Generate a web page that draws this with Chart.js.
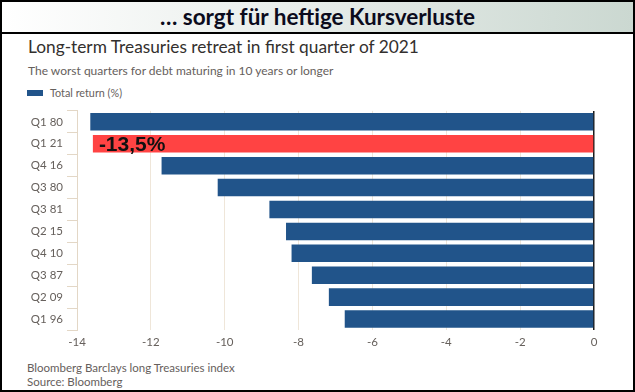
<!DOCTYPE html>
<html>
<head>
<meta charset="utf-8">
<script src="https://cdn.jsdelivr.net/npm/chart.js@4/dist/chart.umd.min.js"></script>
<style>
  body { margin: 0; background: #fff; width: 635px; height: 392px; overflow: hidden; position: relative; font-family: Lato, "Open Sans", sans-serif; }
  #frame { position: absolute; left: 0; top: 0; width: 635px; height: 392px; box-sizing: border-box; border: 2px solid #000; }
  #header { position: absolute; left: 0; top: 0; width: 635px; height: 34px; box-sizing: border-box; border: 2px solid #000;
    background: linear-gradient(to right, #ffffff 0%, #e9eeeb 45%, #cbd8d1 100%);
    text-align: center; font: bold 22.5px Lato, sans-serif; line-height: 30px; color: #0b0b1c; }
  .txt { position: absolute; left: 28px; white-space: nowrap; color: #66605c; }
  #title { top: 36px; font-size: 17.3px; color: #33302e; }
  #subtitle { top: 63px; font-size: 12px; }
  #legend { top: 86px; left: 27px; font-size: 10.8px; }
  #legend span { display: inline-block; width: 16px; height: 6px; background: #21548a; margin-right: 7px; vertical-align: 1px; }
  #note1 { top: 361px; font-size: 11.5px; left: 27px; }
  #note2 { top: 375px; font-size: 11.5px; left: 27px; }
  #wrap { position: absolute; left: 0; top: 100px; width: 635px; height: 250px; }
</style>
</head>
<body>
<div id="frame"></div>
<div id="header">… sorgt für heftige Kursverluste</div>
<div class="txt" id="title">Long-term Treasuries retreat in first quarter of 2021</div>
<div class="txt" id="subtitle">The worst quarters for debt maturing in 10 years or longer</div>
<div class="txt" id="legend"><span></span>Total return (%)</div>
<div class="txt" id="note1">Bloomberg Barclays long Treasuries index</div>
<div class="txt" id="note2">Source: Bloomberg</div>
<div id="wrap"><canvas id="chart" width="635" height="250"></canvas></div>
<script>
const quarters = ["Q1 80", "Q1 21", "Q4 16", "Q3 80", "Q3 81", "Q2 15", "Q4 10", "Q3 87", "Q2 09", "Q1 96"];
const totalReturn = [-13.64, -13.57, -11.71, -10.19, -8.79, -8.34, -8.19, -7.64, -7.18, -6.75];
const highlightQuarter = "Q1 21";
const highlightLabel = "-13,5%";
const xTicks = [-14, -12, -10, -8, -6, -4, -2, 0];

const blue = "#21548a";
const red = "#ff4343";
const beige = "#efe6d9";
const axisBeige = "#e3d7c6";
const labelGrey = "#66605c";

const barLabel = {
  id: "barLabel",
  afterDatasetsDraw(chart) {
    const i = quarters.indexOf(highlightQuarter);
    const bar = chart.getDatasetMeta(0).data[i];
    const ctx = chart.ctx;
    ctx.save();
    ctx.font = "bold 21px Arial, 'Liberation Sans', sans-serif";
    ctx.fillStyle = "#111";
    ctx.textAlign = "left";
    ctx.textBaseline = "middle";
    ctx.fillText(highlightLabel, bar.x + 6, bar.y + 1);
    ctx.restore();
  }
};

new Chart(document.getElementById("chart"), {
  type: "bar",
  data: {
    labels: quarters,
    datasets: [{
      label: "Total return (%)",
      data: totalReturn,
      backgroundColor: quarters.map(q => q === highlightQuarter ? red : blue),
      borderWidth: 0,
      barPercentage: 1,
      categoryPercentage: 0.8
    }]
  },
  options: {
    indexAxis: "y",
    responsive: false,
    animation: false,
    layout: { padding: { top: 7, right: 41, left: 0, bottom: 0 } },
    plugins: { legend: { display: false }, tooltip: { enabled: false } },
    scales: {
      x: {
        min: -14,
        max: 0,
        afterBuildTicks: scale => { scale.ticks = xTicks.map(v => ({ value: v })); },
        afterFit: scale => { scale.height = 20; },
        border: { display: false },
        grid: {
          drawTicks: false,
          color: ctx => ctx.tick && ctx.tick.value === 0 ? "#1a1a1a" : beige,
          lineWidth: ctx => ctx.tick && ctx.tick.value === 0 ? 1.5 : 1
        },
        ticks: { color: labelGrey, padding: 5, font: { family: "Lato", size: 11.5 } }
      },
      y: {
        afterFit: scale => { scale.width = 77; },
        border: { display: true, color: axisBeige },
        grid: { drawOnChartArea: false, drawTicks: true, tickLength: 10, color: axisBeige },
        ticks: { color: labelGrey, padding: 4, font: { family: "Lato", size: 11.5 } }
      }
    }
  },
  plugins: [barLabel]
});
</script>
</body>
</html>
